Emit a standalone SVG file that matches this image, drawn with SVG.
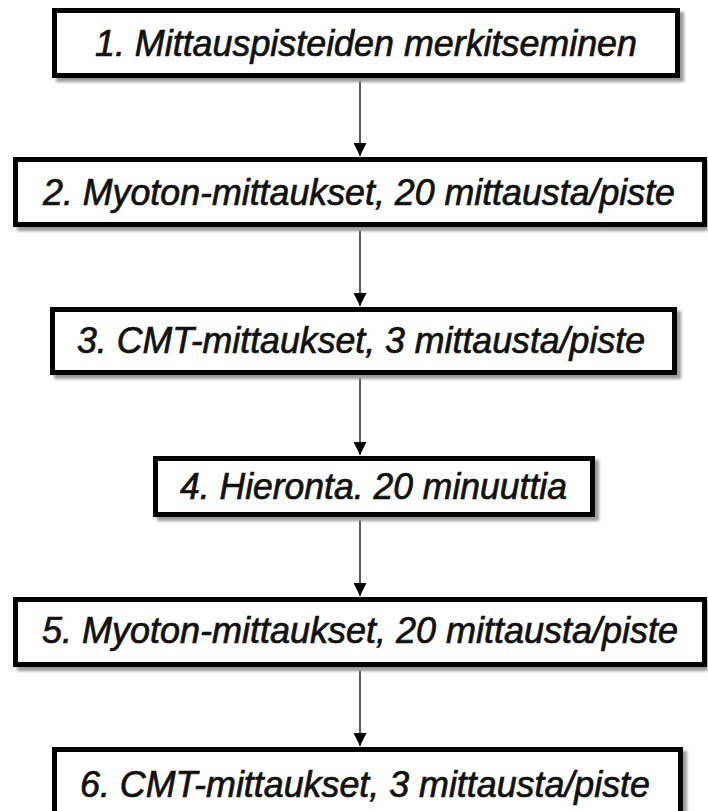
<svg xmlns="http://www.w3.org/2000/svg" width="708" height="811" viewBox="0 0 708 811">
  <defs>
    <style>
      .box { fill: #ffffff; stroke: #000000; stroke-width: 5; }
      .shadow { fill: #9a9a9a; filter: url(#blur); }
      .lbl { font-family: "Liberation Sans", Arial, sans-serif; font-style: italic; font-size: 36px; fill: #111111; stroke: #111111; stroke-width: 0.7; }
      .conn { stroke: #333333; stroke-width: 1.6; fill: none; marker-end: url(#arrow); }
    </style>
    <filter id="blur" x="-10%" y="-10%" width="120%" height="140%">
      <feGaussianBlur stdDeviation="1.5"/>
    </filter>
    <marker id="arrow" viewBox="0 0 13 13" refX="13" refY="6.5" markerWidth="13" markerHeight="13" markerUnits="userSpaceOnUse" orient="auto">
      <path d="M0,0 L13,6.5 L0,13 Z" fill="#000000"/>
    </marker>
  </defs>
  <rect width="708" height="811" fill="#ffffff"/>

  <g id="connectors">
    <line class="conn" x1="360" y1="81" x2="360" y2="156"/>
    <line class="conn" x1="360" y1="230" x2="360" y2="306"/>
    <line class="conn" x1="360" y1="378" x2="360" y2="455"/>
    <line class="conn" x1="360" y1="520" x2="360" y2="596"/>
    <line class="conn" x1="360" y1="670" x2="360" y2="746"/>
  </g>

  <g id="node1">
    <rect class="shadow" x="56" y="12" width="628" height="70"/>
    <rect class="box" x="54.5" y="10.5" width="623" height="65"/>
    <text class="lbl" x="95" y="56" textLength="542" lengthAdjust="spacingAndGlyphs">1. Mittauspisteiden merkitseminen</text>
  </g>

  <g id="node2">
    <rect class="shadow" x="17" y="161" width="691" height="70"/>
    <rect class="box" x="15.5" y="159.5" width="689" height="65"/>
    <text class="lbl" x="43" y="205" textLength="632" lengthAdjust="spacingAndGlyphs">2. Myoton-mittaukset, 20 mittausta/piste</text>
  </g>

  <g id="node3">
    <rect class="shadow" x="54" y="311" width="627" height="68"/>
    <rect class="box" x="52.5" y="309.5" width="622" height="63"/>
    <text class="lbl" x="77" y="353" textLength="568" lengthAdjust="spacingAndGlyphs">3. CMT-mittaukset, 3 mittausta/piste</text>
  </g>

  <g id="node4">
    <rect class="shadow" x="157" y="460" width="442" height="61"/>
    <rect class="box" x="155.5" y="458.5" width="437" height="56"/>
    <text class="lbl" x="180" y="499" textLength="387" lengthAdjust="spacingAndGlyphs">4. Hieronta. 20 minuuttia</text>
  </g>

  <g id="node5">
    <rect class="shadow" x="17" y="601" width="691" height="70"/>
    <rect class="box" x="15.5" y="599.5" width="689" height="65"/>
    <text class="lbl" x="42" y="643" textLength="636" lengthAdjust="spacingAndGlyphs">5. Myoton-mittaukset, 20 mittausta/piste</text>
  </g>

  <g id="node6">
    <rect class="shadow" x="56" y="751" width="631" height="70"/>
    <rect class="box" x="54.5" y="749.5" width="626" height="65"/>
    <text class="lbl" x="80" y="797" textLength="570" lengthAdjust="spacingAndGlyphs">6. CMT-mittaukset, 3 mittausta/piste</text>
  </g>
</svg>
